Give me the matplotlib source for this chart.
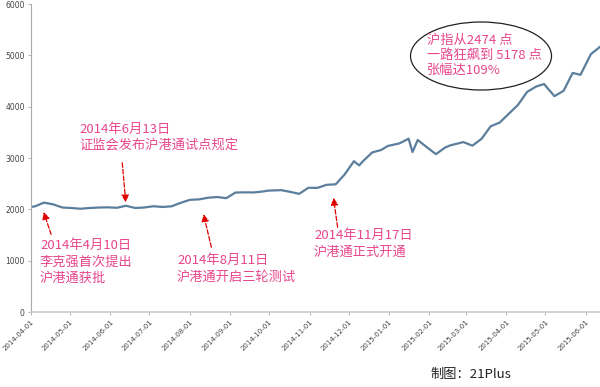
import pandas as pd
import numpy as np
import matplotlib.pyplot as plt
import matplotlib.dates as mdates
from matplotlib.patches import Ellipse

plt.rcParams['font.family'] = ['Noto Sans CJK SC', 'DejaVu Sans']

# 上证指数（周线，读图估计）
dates = ['2014-04-01', '2014-04-04', '2014-04-11', '2014-04-18', '2014-04-25',
         '2014-05-02', '2014-05-09', '2014-05-16', '2014-05-23', '2014-05-30',
         '2014-06-06', '2014-06-13', '2014-06-20', '2014-06-27', '2014-07-04',
         '2014-07-11', '2014-07-18', '2014-07-25', '2014-08-01', '2014-08-08',
         '2014-08-15', '2014-08-22', '2014-08-29', '2014-09-05', '2014-09-12',
         '2014-09-19', '2014-09-26', '2014-09-30', '2014-10-10', '2014-10-17',
         '2014-10-24', '2014-10-31', '2014-11-07', '2014-11-14', '2014-11-21',
         '2014-11-28', '2014-12-05', '2014-12-09', '2014-12-12', '2014-12-19',
         '2014-12-26', '2014-12-31', '2015-01-09', '2015-01-16', '2015-01-19',
         '2015-01-23', '2015-01-30', '2015-02-06', '2015-02-13', '2015-02-17',
         '2015-02-27', '2015-03-06', '2015-03-13', '2015-03-20', '2015-03-27',
         '2015-04-03', '2015-04-10', '2015-04-17', '2015-04-24', '2015-04-30',
         '2015-05-08', '2015-05-15', '2015-05-22', '2015-05-28', '2015-06-05',
         '2015-06-12']
values = [2047, 2058, 2131, 2097, 2036,
          2026, 2011, 2026, 2035, 2039,
          2030, 2070, 2026, 2036, 2060,
          2046, 2059, 2127, 2185, 2194,
          2226, 2240, 2217, 2327, 2331,
          2329, 2347, 2364, 2374, 2341,
          2302, 2420, 2418, 2478, 2487,
          2683, 2938, 2856, 2938, 3108,
          3157, 3234, 3285, 3376, 3116,
          3351, 3210, 3075, 3203, 3246,
          3310, 3241, 3372, 3617, 3691,
          3863, 4034, 4287, 4393, 4441,
          4205, 4308, 4657, 4620, 5023,
          5166]

ticks = ['2014-04-01', '2014-05-01', '2014-06-01', '2014-07-01', '2014-08-01',
         '2014-09-01', '2014-10-01', '2014-11-01', '2014-12-01', '2015-01-01',
         '2015-02-01', '2015-03-01', '2015-04-01', '2015-05-01', '2015-06-01']

# 事件：箭头指向 (日期, 点位)，文字
events = [('2014-04-10', 2000, '2014年4月10日\n李克强首次提出\n沪港通获批'),
          ('2014-06-13', 2080, '2014年6月13日\n证监会发布沪港通试点规定'),
          ('2014-08-11', 1960, '2014年8月11日\n沪港通开启三轮测试'),
          ('2014-11-19', 2280, '2014年11月17日\n沪港通正式开通')]
# 箭尾和文字位置（像素）
tails = [(52, 237), (122, 160), (212, 250), (338, 230)]
text_pos = [(40, 239), (79, 123), (177, 254), (314, 229)]

pink = '#e8468c'
W, H = 600, 387

fig = plt.figure(figsize=(6, 3.87), dpi=100)
ax = fig.add_axes([31 / W, 1 - 312 / H, 1 - 31 / W, (312 - 4) / H])

x = pd.to_datetime(dates)
ax.plot(x, values, color='#5b7e9c', lw=1.6)

ax.set_ylim(0, 6000)
ax.set_xlim(pd.Timestamp('2014-04-01'), pd.Timestamp('2015-06-12'))
ax.set_yticks(np.arange(0, 6001, 1000))
ax.set_xticks(pd.to_datetime(ticks))
ax.set_xticklabels(ticks, rotation=45, ha='right', rotation_mode='anchor',
                   fontsize=5, color='#444444', family='DejaVu Sans')
for lab in ax.get_yticklabels():
    lab.set_fontsize(5.5)
    lab.set_color('#444444')
    lab.set_family('DejaVu Sans')
ax.tick_params(axis='both', length=2.5, width=0.6, color='#aaaaaa', pad=2)

for s in ['top', 'right']:
    ax.spines[s].set_visible(False)
ax.spines['left'].set_color('#aaaaaa')
ax.spines['bottom'].set_color('#cccccc')
ax.spines['bottom'].set_linewidth(1.2)

for (d, v, txt), (tx, ty), (px, py) in zip(events, tails, text_pos):
    ax.annotate('', xy=(pd.Timestamp(d), v), xytext=(tx / W, 1 - ty / H),
                textcoords='figure fraction',
                arrowprops=dict(arrowstyle='-|>', color='#e00000', lw=0.9,
                                ls='--', mutation_scale=11))
    fig.text(px / W, 1 - py / H, txt, color=pink, fontsize=9.5,
             va='top', ha='left', linespacing=1.35)

# 椭圆标注
ell = Ellipse((481 / W, 1 - 56 / H), 141 / W, 68 / H, transform=fig.transFigure,
              fill=False, edgecolor='#222222', lw=0.9)
fig.add_artist(ell)
fig.text(427 / W, 1 - 34 / H, '沪指从2474 点\n一路狂飙到 5178 点\n张幅达109%',
         color=pink, fontsize=9.5, va='top', ha='left', linespacing=1.2)

fig.text(430 / W, 1 - 374 / H, '制图：21Plus', color='#222222', fontsize=9.5,
         va='center', ha='left')

plt.savefig('out.png', dpi=100)
